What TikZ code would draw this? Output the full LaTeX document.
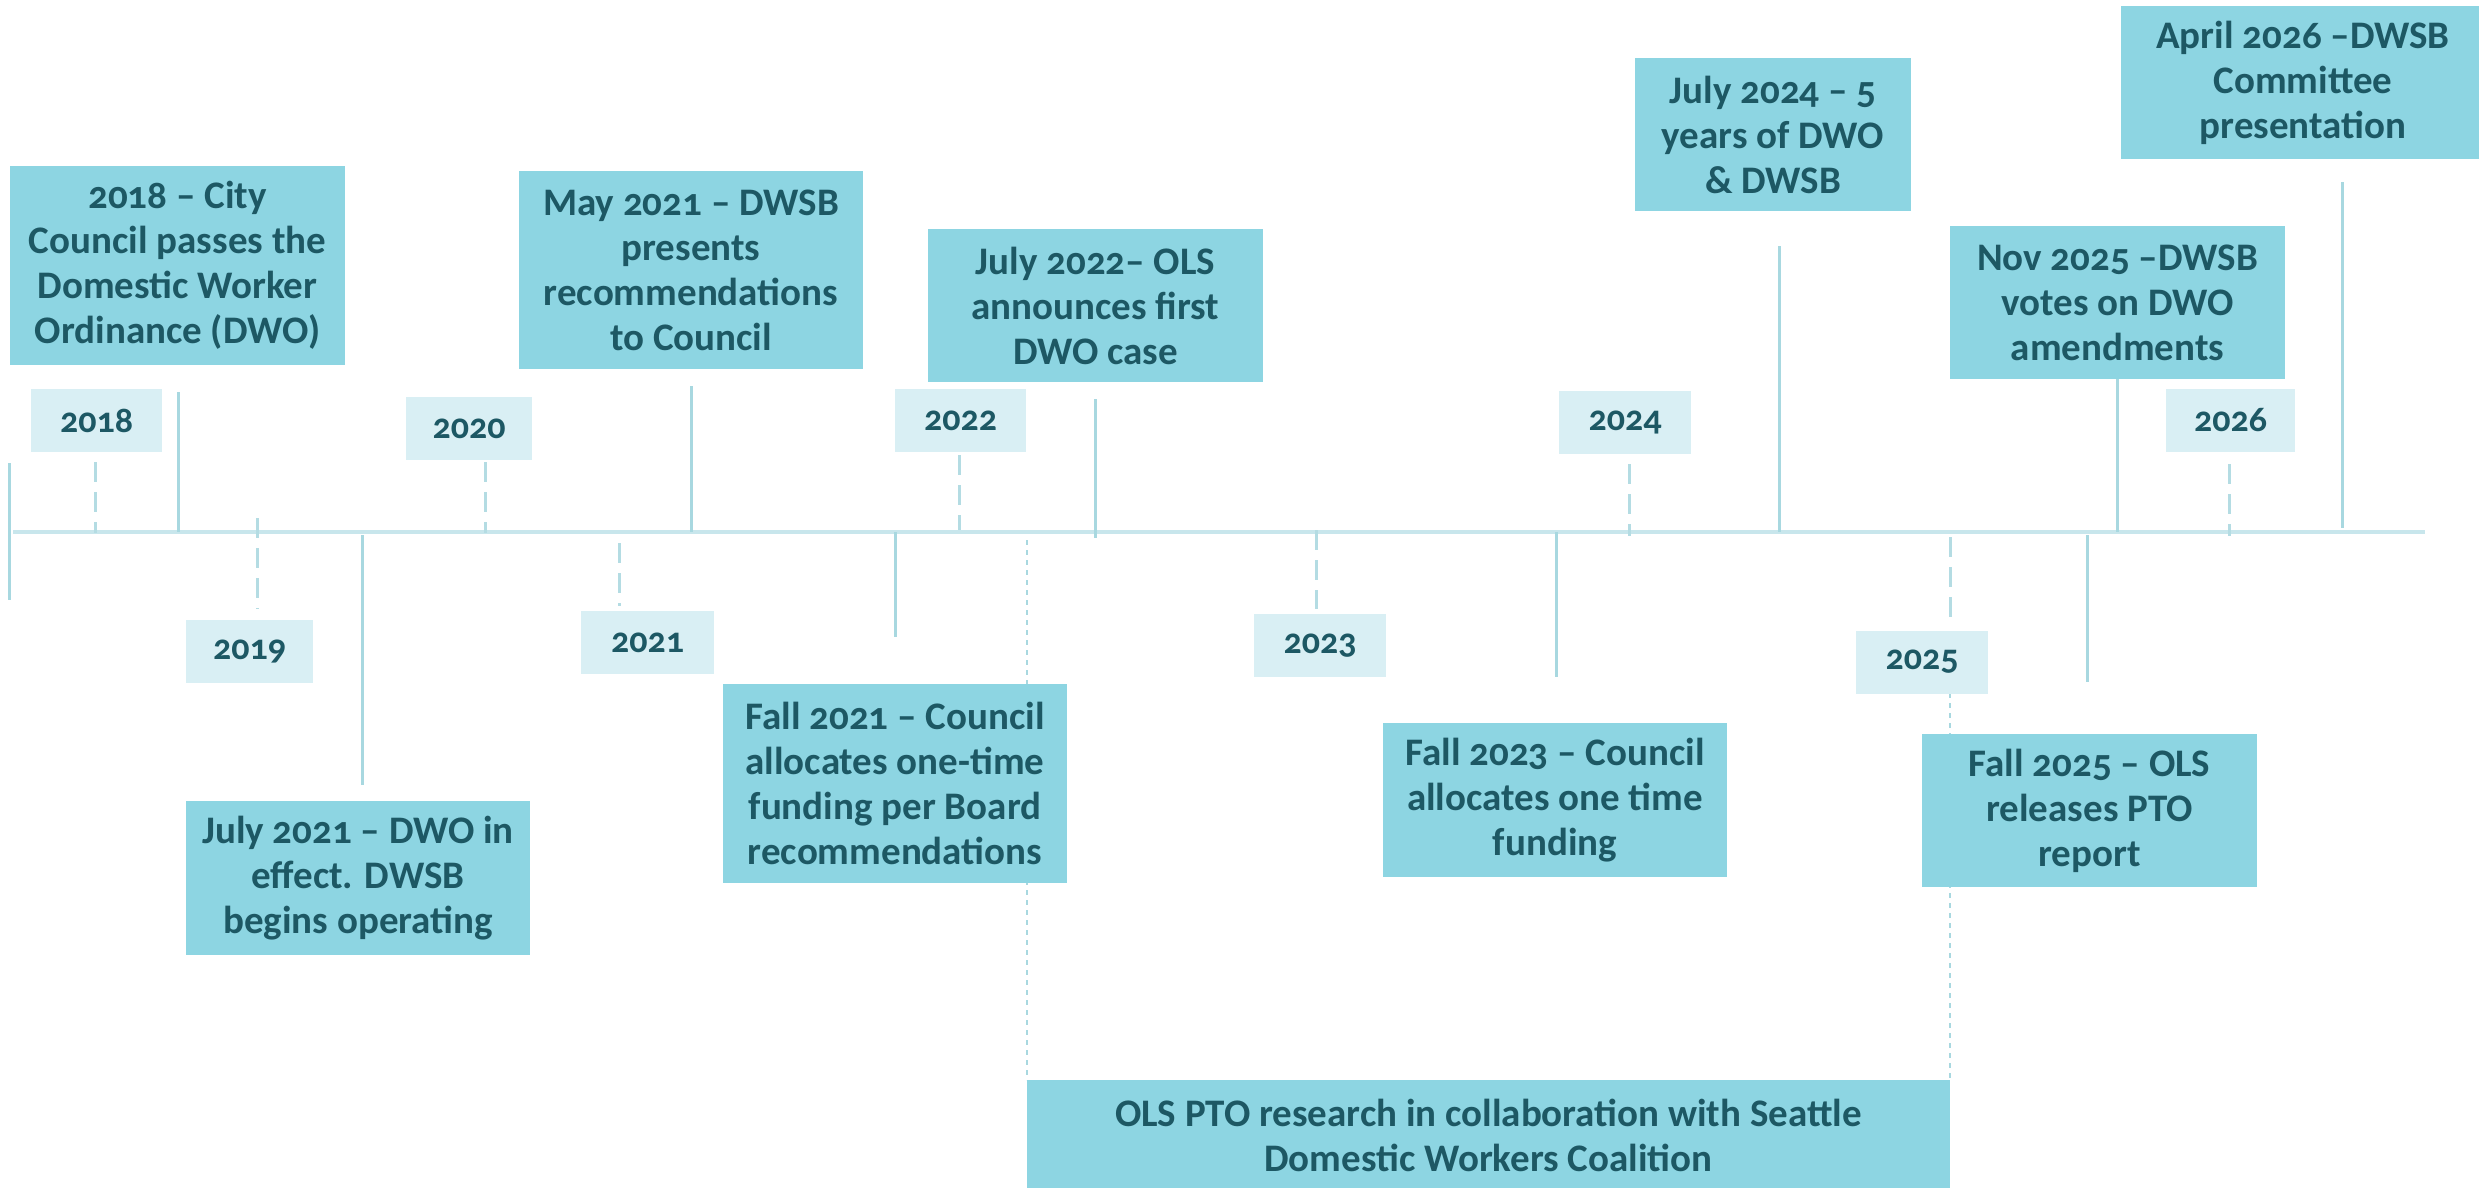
\documentclass[tikz,border=0pt]{standalone}
\usepackage{fontspec}
\setmainfont{Carlito}[Numbers=OldStyle]
\definecolor{boxc}{HTML}{8DD5E2}
\definecolor{yrc}{HTML}{D9EFF4}
\definecolor{txtc}{HTML}{1D5864}
\definecolor{linec}{HTML}{A8D8E0}
\definecolor{tickc}{HTML}{B4DCE3}
\definecolor{axisc}{HTML}{C8E6EC}
\begin{document}
\begin{tikzpicture}[x=1pt,y=-1pt,
  evbox/.style={fill=boxc, text=txtc, align=center, inner sep=0pt, font=\bfseries\fontsize{39}{45}\selectfont},
  yrbox/.style={fill=yrc, text=txtc, inner sep=0pt, minimum height=63pt, font=\bfseries\fontsize{36}{40}\selectfont},
  evline/.style={draw=linec, line width=3pt},
  yrtick/.style={draw=tickc, line width=3pt, dash pattern=on 20pt off 10pt},
  spanline/.style={draw=linec, line width=2pt, dash pattern=on 5pt off 5pt},
  axisline/.style={draw=axisc, line width=4pt}]
\clip (0,0) rectangle (2479,1187);
\fill[white] (0,0) rectangle (2479,1187);

% timeline
\coordinate (tl0) at (13,532);
\coordinate (tl1) at (2425,532);
\draw[axisline] (tl0) -- (tl1);
\coordinate (st0) at (9,463);
\coordinate (st1) at (9,600);
\draw[evline] (st0) -- (st1);

% year ticks (dashed)
\coordinate (d18a) at (95,462);   \coordinate (d18b) at (95,533);
\coordinate (d19a) at (257,518);  \coordinate (d19b) at (257,609);
\coordinate (d20a) at (485,462);  \coordinate (d20b) at (485,533);
\coordinate (d21a) at (619,543);  \coordinate (d21b) at (619,606);
\coordinate (d22a) at (959,455);  \coordinate (d22b) at (959,530);
\coordinate (d23a) at (1316,530); \coordinate (d23b) at (1316,609);
\coordinate (d24a) at (1629,464); \coordinate (d24b) at (1629,536);
\coordinate (d25a) at (1950,537); \coordinate (d25b) at (1950,626);
\coordinate (d26a) at (2229,464); \coordinate (d26b) at (2229,536);
\foreach \y in {18,19,20,21,22,23,24,25,26} {\draw[yrtick] (d\y a) -- (d\y b);}

% span lines to bottom box
\coordinate (s1a) at (1027,540);
\coordinate (s2a) at (1950,693);
\draw[spanline] (s1a) -- (1027,1080) coordinate (s1b);
\draw[spanline] (s2a) -- (1950,1080) coordinate (s2b);

% event connectors
\coordinate (cA1) at (178,392);  \coordinate (cA2) at (178,532);
\coordinate (cB1) at (691,386);  \coordinate (cB2) at (691,532);
\coordinate (cC1) at (1095,399); \coordinate (cC2) at (1095,538);
\coordinate (cD1) at (1779,246); \coordinate (cD2) at (1779,532);
\coordinate (cE1) at (2342,182); \coordinate (cE2) at (2342,528);
\coordinate (cF1) at (2117,379); \coordinate (cF2) at (2117,532);
\coordinate (cG1) at (362,535);  \coordinate (cG2) at (362,785);
\coordinate (cH1) at (895,532);  \coordinate (cH2) at (895,637);
\coordinate (cI1) at (1556,532); \coordinate (cI2) at (1556,677);
\coordinate (cJ1) at (2087,535); \coordinate (cJ2) at (2087,682);
\foreach \e in {A,B,C,D,E,F,G,H,I,J} {\draw[evline] (c\e 1) -- (c\e 2);}

% year boxes
\node[yrbox, minimum width=131pt] (y2018) at (96.5,420.5) {2018};
\node[yrbox, minimum width=127pt] (y2019) at (249.5,651) {2019};
\node[yrbox, minimum width=126pt] (y2020) at (469,428.5) {2020};
\node[yrbox, minimum width=133pt] (y2021) at (647.5,642.5) {2021};
\node[yrbox, minimum width=131pt] (y2022) at (960.5,420.5) {2022};
\node[yrbox, minimum width=132pt] (y2023) at (1320,645.5) {2023};
\node[yrbox, minimum width=132pt] (y2024) at (1625,422.5) {2024};
\node[yrbox, minimum width=132pt] (y2025) at (1922,662) {2025};
\node[yrbox, minimum width=129pt] (y2026) at (2230.5,420.5) {2026};

% event boxes
\node[evbox, minimum width=335pt, minimum height=199pt] (A) at (177.5,265.5)
  {2018 – City\\Council passes the\\Domestic Worker\\Ordinance (DWO)};
\node[evbox, minimum width=344pt, minimum height=198pt] (B) at (691,270)
  {May 2021 – DWSB\\presents\\recommendations\\to Council};
\node[evbox, minimum width=335pt, minimum height=153pt] (C) at (1095.5,305.5)
  {July 2022– OLS\\announces first\\DWO case};
\node[evbox, minimum width=276pt, minimum height=153pt] (D) at (1773,134.5)
  {July 2024 – 5\\years of DWO\\\& DWSB};
\node[evbox, minimum width=364pt, minimum height=153pt] (E) at (2303,82.5)
  {April 2026 –DWSB\\Committee\\presentation};
\node[evbox, minimum width=335pt, minimum height=153pt] (F) at (2117.5,302.5)
  {Nov 2025 –DWSB\\votes on DWO\\amendments};
\node[evbox, minimum width=344pt, minimum height=154pt] (G) at (358,878)
  {July 2021 – DWO in\\effect. DWSB\\begins operating};
\node[evbox, minimum width=344pt, minimum height=199pt] (H) at (895,783.5)
  {Fall 2021 – Council\\allocates one-time\\funding per Board\\recommendations};
\node[evbox, minimum width=344pt, minimum height=154pt] (I) at (1555,800)
  {Fall 2023 – Council\\allocates one time\\funding};
\node[evbox, minimum width=335pt, minimum height=153pt] (J) at (2089.5,810.5)
  {Fall 2025 – OLS\\releases PTO\\report};
\node[evbox, minimum width=923pt, minimum height=110pt] (K) at (1488.5,1135)
  {OLS PTO research in collaboration with Seattle\\Domestic Workers Coalition};
\end{tikzpicture}
\end{document}
